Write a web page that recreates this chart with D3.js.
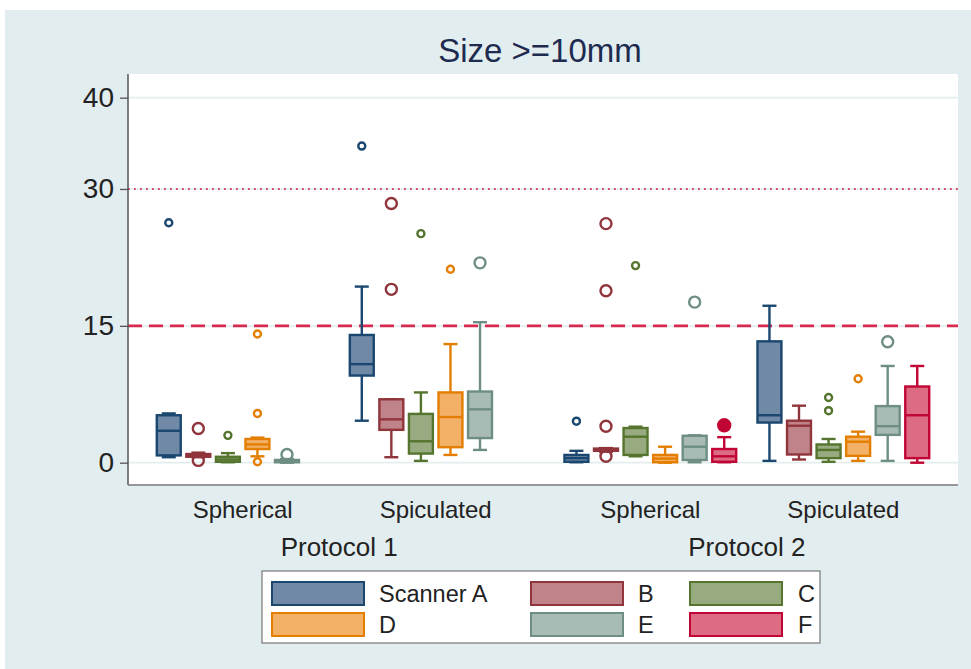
<!DOCTYPE html>
<html>
<head>
<meta charset="utf-8">
<script src="https://cdn.jsdelivr.net/npm/d3@7"></script>
<style>
  body { margin: 0; background: #fff; }
  svg { display: block; font-family: "Liberation Sans", Arial, sans-serif; }
</style>
</head>
<body>
<div id="chart"></div>
<script>
// categories
const protocols = ["Protocol 1", "Protocol 2"];
const shapes = ["Spherical", "Spiculated"];
const scanners = ["A", "B", "C", "D", "E", "F"];
const legendLabels = ["Scanner A", "B", "C", "D", "E", "F"];
const yTicks = [0, 15, 30, 40];
const refLines = [15, 30];

// box stats: lo / q1 / med / q3 / hi whiskers, outliers
const p1Spherical = [
  { s: "A", lo: 0.6, q1: 0.8, med: 3.5, q3: 5.2, hi: 5.4, out: [26.3] },
  { s: "B", lo: 0.6, q1: 0.65, med: 0.8, q3: 0.95, hi: 1.1, out: [3.75, 0.25] },
  { s: "C", lo: 0.05, q1: 0.1, med: 0.35, q3: 0.65, hi: 1.05, out: [3.0] },
  { s: "D", lo: 0.7, q1: 1.5, med: 2.0, q3: 2.6, hi: 2.75, out: [14.1, 5.4, 0.1] },
  { s: "E", lo: 0.0, q1: 0.05, med: 0.15, q3: 0.3, hi: 0.4, out: [0.9] }
];
const p1Spiculated = [
  { s: "A", lo: 4.6, q1: 9.55, med: 10.8, q3: 14.0, hi: 19.3, out: [34.7] },
  { s: "B", lo: 0.6, q1: 3.6, med: 4.75, q3: 6.95, hi: 6.95, out: [28.4, 19.0] },
  { s: "C", lo: 0.2, q1: 1.0, med: 2.35, q3: 5.35, hi: 7.7, out: [25.1] },
  { s: "D", lo: 0.85, q1: 1.7, med: 5.0, q3: 7.7, hi: 13.0, out: [21.2] },
  { s: "E", lo: 1.4, q1: 2.7, med: 5.85, q3: 7.8, hi: 15.4, out: [21.9] }
];
const p2Spherical = [
  { s: "A", lo: 0.05, q1: 0.1, med: 0.5, q3: 0.85, hi: 1.3, out: [4.55] },
  { s: "B", lo: 1.2, q1: 1.3, med: 1.45, q3: 1.55, hi: 1.6, out: [26.2, 18.85, 4.0, 0.7] },
  { s: "C", lo: 0.7, q1: 0.85, med: 2.85, q3: 3.8, hi: 3.95, out: [21.6] },
  { s: "D", lo: 0.0, q1: 0.05, med: 0.45, q3: 0.85, hi: 1.75, out: [] },
  { s: "E", lo: 0.05, q1: 0.3, med: 1.75, q3: 2.95, hi: 3.0, out: [17.6] },
  { s: "F", lo: 0.05, q1: 0.1, med: 0.7, q3: 1.5, hi: 2.8, out: [4.1] }
];
const p2Spiculated = [
  { s: "A", lo: 0.2, q1: 4.4, med: 5.2, q3: 13.3, hi: 17.2, out: [] },
  { s: "B", lo: 0.35, q1: 0.9, med: 4.05, q3: 4.6, hi: 6.25, out: [] },
  { s: "C", lo: 0.1, q1: 0.5, med: 1.4, q3: 2.0, hi: 2.6, out: [7.15, 5.7] },
  { s: "D", lo: 0.2, q1: 0.75, med: 2.3, q3: 2.85, hi: 3.4, out: [9.2] },
  { s: "E", lo: 0.2, q1: 3.05, med: 4.0, q3: 6.2, hi: 10.6, out: [13.25] },
  { s: "F", lo: 0.0, q1: 0.5, med: 5.2, q3: 8.35, hi: 10.6, out: [] }
];

const groups = [
  { p: "Protocol 1", sh: "Spherical", boxes: p1Spherical },
  { p: "Protocol 1", sh: "Spiculated", boxes: p1Spiculated },
  { p: "Protocol 2", sh: "Spherical", boxes: p2Spherical },
  { p: "Protocol 2", sh: "Spiculated", boxes: p2Spiculated }
];

const strokeCol = { A: "#1a476f", B: "#90353b", C: "#55752f", D: "#e37e00", E: "#6e8e84", F: "#c10534" };
const fillCol = { A: "#7089a6", B: "#c0838a", C: "#98aa80", D: "#f3b168", E: "#a8bcb5", F: "#dd6b83" };
const outR = { A: 3.5, B: 5.5, C: 3.5, D: 3.5, E: 5.5, F: 5.5 };
const solidOutlier = "Protocol 2|Spherical|F";

const W = 971, H = 669;
const plot = { left: 128, right: 958, top: 74, bottom: 485 };
const font = "'Liberation Sans', Arial, sans-serif";
const sw = 2.4;

const svg = d3.select("#chart").append("svg").attr("width", W).attr("height", H);

svg.append("rect").attr("x", 5).attr("y", 10).attr("width", W - 5).attr("height", H - 10)
  .attr("fill", "#e2edef");
svg.append("rect").attr("x", plot.left).attr("y", plot.top)
  .attr("width", plot.right - plot.left).attr("height", plot.bottom - plot.top)
  .attr("fill", "#fff");

const y = d3.scaleLinear().domain([0, 40]).range([462.7, 97.7]);

const xP = d3.scaleBand().domain(protocols).range([plot.left, plot.right])
  .paddingInner(0).paddingOuter(0.018);
const xS = d3.scaleBand().domain(shapes).range([0, xP.bandwidth()])
  .paddingInner(0).paddingOuter(0.056);
const xC = d3.scaleBand().domain(scanners).range([0, xS.bandwidth()])
  .paddingInner(0.19).paddingOuter(0.36);

// gridlines
svg.append("g").selectAll("line").data(yTicks).join("line")
  .attr("x1", plot.left).attr("x2", plot.right)
  .attr("y1", d => y(d)).attr("y2", d => y(d))
  .attr("stroke", "#e4eded").attr("stroke-width", 1.8);

// reference lines
svg.append("line")
  .attr("x1", plot.left).attr("x2", plot.right)
  .attr("y1", y(refLines[1])).attr("y2", y(refLines[1]))
  .attr("stroke", "#d44a6a").attr("stroke-width", 2).attr("stroke-dasharray", "1.8 4.2");
svg.append("line")
  .attr("x1", plot.left).attr("x2", plot.right)
  .attr("y1", y(refLines[0])).attr("y2", y(refLines[0]))
  .attr("stroke", "#d8294f").attr("stroke-width", 2.6).attr("stroke-dasharray", "14 7");

// y axis
const yAxis = d3.axisLeft(y).tickValues(yTicks).tickSize(8).tickPadding(6);
const ya = svg.append("g").attr("transform", `translate(${plot.left},0)`).call(yAxis);
ya.select(".domain").remove();
ya.selectAll(".tick line").attr("stroke", "#555").attr("stroke-width", 1.3);
ya.selectAll(".tick text").attr("font-size", 28).attr("fill", "#222").attr("font-family", font);
svg.append("line").attr("x1", plot.left).attr("x2", plot.left)
  .attr("y1", plot.top).attr("y2", plot.bottom).attr("stroke", "#555").attr("stroke-width", 1.5);
svg.append("line").attr("x1", plot.left).attr("x2", plot.right)
  .attr("y1", plot.bottom).attr("y2", plot.bottom).attr("stroke", "#777").attr("stroke-width", 1.5);

// boxes
const bw = xC.bandwidth();
const capW = 14;
groups.forEach(g => {
  const gx = xP(g.p) + xS(g.sh);
  const layer = svg.append("g").attr("transform", `translate(${gx},0)`);
  g.boxes.forEach(b => {
    const cx = xC(b.s) + bw / 2;
    const sc = strokeCol[b.s];
    const bx = layer.append("g");
    // whiskers
    bx.append("line").attr("x1", cx).attr("x2", cx).attr("y1", y(b.hi)).attr("y2", y(b.q3))
      .attr("stroke", sc).attr("stroke-width", sw);
    bx.append("line").attr("x1", cx).attr("x2", cx).attr("y1", y(b.q1)).attr("y2", y(b.lo))
      .attr("stroke", sc).attr("stroke-width", sw);
    [b.hi, b.lo].forEach(v => {
      bx.append("line").attr("x1", cx - capW / 2).attr("x2", cx + capW / 2)
        .attr("y1", y(v)).attr("y2", y(v)).attr("stroke", sc).attr("stroke-width", sw);
    });
    // box
    bx.append("rect").attr("x", xC(b.s)).attr("width", bw)
      .attr("y", y(b.q3)).attr("height", Math.max(1, y(b.q1) - y(b.q3)))
      .attr("fill", fillCol[b.s]).attr("stroke", sc).attr("stroke-width", sw);
    bx.append("line").attr("x1", xC(b.s)).attr("x2", xC(b.s) + bw)
      .attr("y1", y(b.med)).attr("y2", y(b.med)).attr("stroke", sc).attr("stroke-width", sw);
    // outliers
    const solid = `${g.p}|${g.sh}|${b.s}` === solidOutlier;
    bx.selectAll("circle").data(b.out).join("circle")
      .attr("cx", cx).attr("cy", d => y(d))
      .attr("r", solid ? 6 : outR[b.s])
      .attr("fill", solid ? sc : "none")
      .attr("stroke", sc).attr("stroke-width", sw);
  });
});

// category labels
groups.forEach(g => {
  svg.append("text")
    .attr("x", xP(g.p) + xS(g.sh) + xS.bandwidth() / 2).attr("y", 518)
    .attr("text-anchor", "middle").attr("font-size", 24).attr("fill", "#222")
    .attr("font-family", font).text(g.sh);
});
protocols.forEach(p => {
  svg.append("text")
    .attr("x", xP(p) + xP.bandwidth() / 2).attr("y", 556)
    .attr("text-anchor", "middle").attr("font-size", 26).attr("fill", "#222")
    .attr("font-family", font).text(p);
});

// title
svg.append("text").attr("x", 540).attr("y", 62).attr("text-anchor", "middle")
  .attr("font-size", 33).attr("fill", "#1e2b4f").attr("font-family", font)
  .text("Size >=10mm");

// legend
const lg = svg.append("g");
lg.append("rect").attr("x", 262).attr("y", 571).attr("width", 558).attr("height", 72)
  .attr("fill", "#fff").attr("stroke", "#777").attr("stroke-width", 1.2);
const colX = [272, 531, 690];
const labX = [379, 638, 798];
const rowY = [582, 613];
scanners.forEach((s, i) => {
  const c = i % 3, r = Math.floor(i / 3);
  lg.append("rect").attr("x", colX[c]).attr("y", rowY[r]).attr("width", 92).attr("height", 23)
    .attr("fill", fillCol[s]).attr("stroke", strokeCol[s]).attr("stroke-width", 2);
  lg.append("text").attr("x", labX[c]).attr("y", rowY[r] + 20)
    .attr("font-size", 23.5).attr("fill", "#222").attr("font-family", font)
    .text(legendLabels[i]);
});
</script>
</body>
</html>
